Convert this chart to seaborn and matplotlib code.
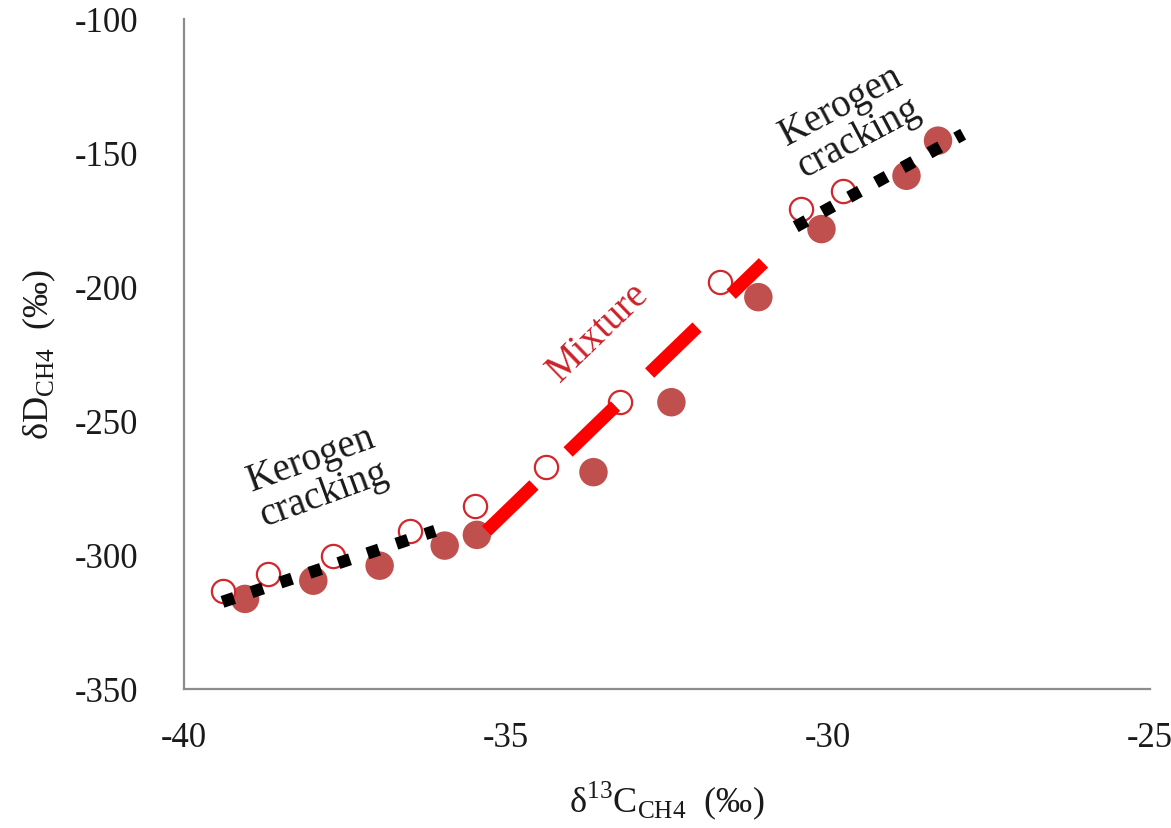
import pandas as pd
import matplotlib.pyplot as plt
import seaborn as sns

open_x = [-39.39, -38.69, -37.68, -36.49, -35.48, -34.37, -33.23, -31.68, -30.41, -29.76]
open_y = [-313.3, -307.1, -300.2, -290.9, -281.6, -267.3, -243.0, -198.3, -170.9, -164.1]
fill_x = [-39.05, -37.99, -36.96, -35.95, -35.45, -33.64, -32.43, -31.08, -30.10, -28.78, -28.29]
fill_y = [-316.4, -309.6, -304.0, -296.5, -292.5, -269.1, -243.0, -203.8, -178.4, -158.5, -145.4]

# trend lines (end points)
kero_low_x = [-39.4, -36.1]
kero_low_y = [-317.5, -291.0]
mix_x = [-35.3, -31.0]
mix_y = [-291.0, -191.0]
kero_up_x = [-30.5, -27.9]
kero_up_y = [-177.5, -143.0]

sns.set_style('white')
plt.rcParams['font.family'] = ['Liberation Serif', 'DejaVu Serif']
plt.rcParams['mathtext.fontset'] = 'custom'
plt.rcParams['mathtext.rm'] = 'Liberation Serif'
plt.rcParams['axes.unicode_minus'] = False

fig = plt.figure(figsize=(11.71, 8.29), dpi=100)
ax = fig.add_axes([0.157, 0.1677, 0.825, 0.8082])

sns.scatterplot(x=fill_x, y=fill_y, ax=ax, s=420, color='#c0504d', edgecolor='none', zorder=2)
sns.scatterplot(x=open_x, y=open_y, ax=ax, s=280, facecolor='white', edgecolor='#d0282c',
                linewidth=1.6, zorder=3)

dot_kw = dict(color='black', linewidth=8.8, zorder=4)
ax.plot(kero_low_x, kero_low_y, linestyle=(0, (1, 1.5)), dash_capstyle='butt', **dot_kw)
ax.plot(kero_up_x, kero_up_y, linestyle=(0, (1, 1.5)), dash_capstyle='butt', **dot_kw)
ax.plot(mix_x, mix_y, color='#ff0000', linewidth=9.5, linestyle=(0, (5.0, 3.6)),
        dash_capstyle='butt', zorder=4)

ax.text(-37.92, -270.5, 'Kerogen\ncracking', fontsize=28, rotation=20, ha='center',
        va='center', ma='center', color='#1a1a1a', linespacing=1.0)
ax.text(-29.66, -138.1, 'Kerogen\ncracking', fontsize=28, rotation=28, ha='center',
        va='center', ma='center', color='#1a1a1a', linespacing=1.0)
ax.text(-33.57, -216.8, 'Mixture', fontsize=28, rotation=44, ha='center', va='center',
        color='#cc2229')

ax.set_xlim(-40, -25)
ax.set_ylim(-350, -100)
ax.set_xticks([-40, -35, -30, -25])
ax.set_yticks([-350, -300, -250, -200, -150, -100])

sns.despine(ax=ax)
for side in ['left', 'bottom']:
    ax.spines[side].set_color('#8c8c8c')
    ax.spines[side].set_linewidth(1.6)
ax.tick_params(axis='both', direction='out', length=7, width=1.4, color='#8c8c8c',
               labelsize=25, labelcolor='#1a1a1a')
ax.tick_params(axis='y', pad=26)
ax.tick_params(axis='x', pad=16)

ax.set_xlabel(r'δ$^{13}$C$_{\mathrm{CH4}}$  (‰)', fontsize=26, color='#1a1a1a', labelpad=18)
ax.set_ylabel(r'δD$_{\mathrm{CH4}}$  (‰)', fontsize=26, color='#1a1a1a', labelpad=12)

plt.savefig('out.png', dpi=100)
